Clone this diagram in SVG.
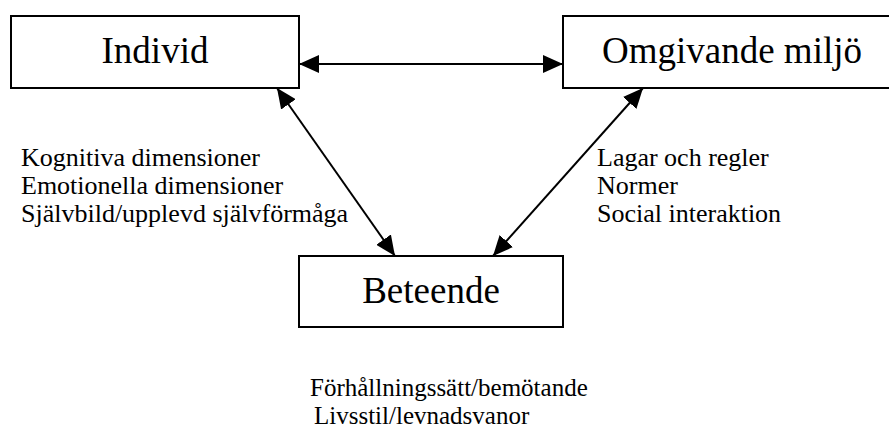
<svg xmlns="http://www.w3.org/2000/svg" width="889" height="430" viewBox="0 0 889 430">
<style>
.box{fill:#fff;stroke:#000;stroke-width:2}
.title{font-family:"Liberation Serif","Times New Roman",serif;font-size:37px;fill:#000;text-anchor:middle}
.lbl{font-family:"Liberation Serif","Times New Roman",serif;font-size:26px;fill:#000}
.lbl2{font-family:"Liberation Serif","Times New Roman",serif;font-size:25px;fill:#000}
.conn{stroke:#000;stroke-width:2;fill:none}
</style>
<defs>
<marker id="ah" markerUnits="userSpaceOnUse" markerWidth="20" markerHeight="18" refX="20" refY="9" orient="auto-start-reverse" viewBox="0 0 20 18">
<path d="M0,0 L20,9 L0,18 z" fill="#000"/>
</marker>
</defs>
<rect width="889" height="430" fill="#fff"/>
<g id="connectors">
<line class="conn" x1="299" y1="64" x2="563" y2="64" marker-start="url(#ah)" marker-end="url(#ah)"/>
<line class="conn" x1="277" y1="88" x2="395" y2="256" marker-start="url(#ah)" marker-end="url(#ah)"/>
<line class="conn" x1="643" y1="88" x2="493" y2="256" marker-start="url(#ah)" marker-end="url(#ah)"/>
</g>
<g id="individ">
<rect class="box" x="11" y="16" width="288" height="72"/>
<text class="title" x="155" y="63">Individ</text>
</g>
<g id="omgivande">
<rect class="box" x="563" y="16" width="340" height="72"/>
<text class="title" x="732" y="63">Omgivande miljö</text>
</g>
<g id="beteende">
<rect class="box" x="299" y="256" width="264" height="71"/>
<text class="title" x="431" y="303">Beteende</text>
</g>
<g id="individ-labels">
<text class="lbl" x="21" y="166">Kognitiva dimensioner</text>
<text class="lbl" x="21" y="194">Emotionella dimensioner</text>
<text class="lbl" x="21" y="222">Självbild/upplevd självförmåga</text>
</g>
<g id="miljo-labels">
<text class="lbl" x="597" y="166">Lagar och regler</text>
<text class="lbl" x="597" y="194">Normer</text>
<text class="lbl" x="597" y="222">Social interaktion</text>
</g>
<g id="beteende-labels">
<text class="lbl2" x="310" y="396">Förhållningssätt/bemötande</text>
<text class="lbl2" x="314" y="424">Livsstil/levnadsvanor</text>
</g>
</svg>
